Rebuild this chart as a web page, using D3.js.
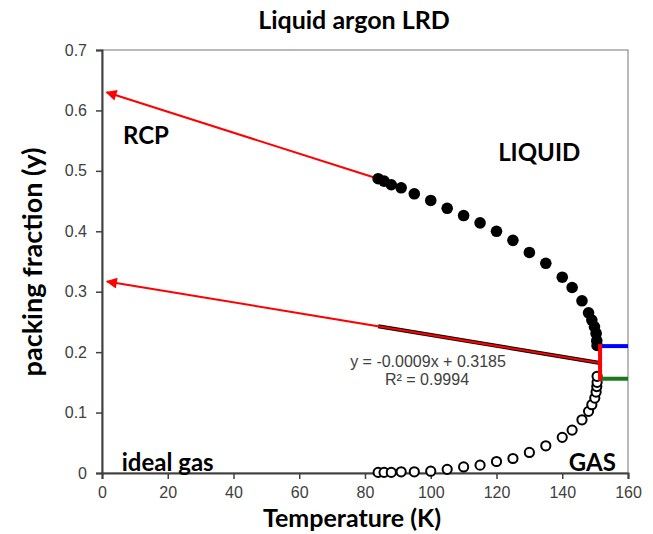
<!DOCTYPE html>
<html>
<head>
<meta charset="utf-8">
<script src="https://cdn.jsdelivr.net/npm/d3@7"></script>
<style>
  body { margin: 0; background: #fff; }
  text { font-family: "Liberation Sans", Arial, sans-serif; }
  .bold { font-family: Lato, "Open Sans", sans-serif; font-weight: bold; fill: #000; }
</style>
</head>
<body>
<svg id="chart" width="653" height="534"></svg>
<script>
// temperatures (K) and packing fractions
const temps = [84, 85.8, 88, 91, 95, 100, 105, 110, 115, 120, 125, 130, 135, 140, 143, 146, 148, 149, 149.8, 150.3, 150.5, 150.6];
const liquidY = [0.487, 0.483, 0.477, 0.472, 0.462, 0.451, 0.438, 0.426, 0.414, 0.400, 0.385, 0.365, 0.347, 0.324, 0.307, 0.285, 0.265, 0.253, 0.242, 0.231, 0.219, 0.211];
const gasTemps = [84, 85.8, 88, 91, 95, 100, 105, 110, 115, 120, 125, 130, 135, 140, 143, 146, 148, 149, 149.9, 150.3, 150.5, 150.6, 150.6];
const gasY = [0.001, 0.001, 0.001, 0.002, 0.002, 0.003, 0.006, 0.010, 0.013, 0.019, 0.024, 0.034, 0.045, 0.059, 0.071, 0.088, 0.102, 0.113, 0.124, 0.134, 0.143, 0.150, 0.160];

const xTicks = [0, 20, 40, 60, 80, 100, 120, 140, 160];
const yTicks = [0, 0.1, 0.2, 0.3, 0.4, 0.5, 0.6, 0.7];

// linear fit of the mean
const fitSlope = -0.0009, fitIntercept = 0.3185;
const fitRange = [84, 151.5];
const rcpArrow = [[84, 0.487], [1.4, 0.630]];
const meanArrow = [[151.5, 0.182], [1.5, 0.317]];
const criticalT = 151.5;
const liquidCrit = 0.210, gasCrit = 0.156;

const svg = d3.select("#chart");
const plotL = 102, plotR = 628, plotT = 50, plotB = 473;

const x = d3.scaleLinear().domain([0, 160]).range([plotL, plotR]);
const y = d3.scaleLinear().domain([0, 0.7]).range([plotB, plotT]);

// plot frame
svg.append("rect")
  .attr("x", plotL).attr("y", plotT)
  .attr("width", plotR - plotL).attr("height", plotB - plotT)
  .attr("fill", "none").attr("stroke", "#8c8c8c").attr("stroke-width", 1.2);

// axes
const xAxis = svg.append("g")
  .attr("transform", "translate(0," + plotB + ")")
  .call(d3.axisBottom(x).tickValues(xTicks).tickSize(6).tickPadding(8).tickFormat(d3.format("d")));
const yAxis = svg.append("g")
  .attr("transform", "translate(" + plotL + ",0)")
  .call(d3.axisLeft(y).tickValues(yTicks).tickSize(6).tickPadding(9).tickFormat(function(d){ return d === 0 ? "0" : d3.format(".1f")(d); }));

[xAxis, yAxis].forEach(function(a) {
  a.select(".domain").attr("stroke", "#404040").attr("stroke-width", 2);
  a.selectAll(".tick line").attr("stroke", "#404040").attr("stroke-width", 1.5);
  a.selectAll(".tick text").attr("fill", "#404040").style("font-size", "16px")
    .style("font-family", "'Liberation Sans', Arial, sans-serif");
});

// title and axis titles
svg.append("text").attr("class", "bold")
  .attr("x", 354).attr("y", 29).attr("text-anchor", "middle")
  .style("font-size", "25px").text("Liquid argon LRD");
svg.append("text").attr("class", "bold")
  .attr("x", 352).attr("y", 527).attr("text-anchor", "middle")
  .style("font-size", "25px").text("Temperature (K)");
svg.append("text").attr("class", "bold")
  .attr("transform", "translate(42,262) rotate(-90)").attr("text-anchor", "middle")
  .style("font-size", "27px").text("packing fraction (y)");

// arrow marker
svg.append("defs").append("marker")
  .attr("id", "arrow")
  .attr("viewBox", "0 0 10 10").attr("refX", 9).attr("refY", 5)
  .attr("markerWidth", 7).attr("markerHeight", 5.5)
  .attr("markerUnits", "strokeWidth")
  .attr("orient", "auto")
  .append("path").attr("d", "M0,0 L10,5 L0,10 z").attr("fill", "#ff0000");

// fit line (black) under red arrow
svg.append("line")
  .attr("x1", x(fitRange[0])).attr("y1", y(fitSlope * fitRange[0] + fitIntercept))
  .attr("x2", x(fitRange[1])).attr("y2", y(fitSlope * fitRange[1] + fitIntercept))
  .attr("stroke", "#000").attr("stroke-width", 4);

[rcpArrow, meanArrow].forEach(function(a) {
  svg.append("line")
    .attr("x1", x(a[0][0])).attr("y1", y(a[0][1]))
    .attr("x2", x(a[1][0])).attr("y2", y(a[1][1]))
    .attr("stroke", "#ff0000").attr("stroke-width", 2)
    .attr("marker-end", "url(#arrow)");
});

// data points
svg.selectAll(".liq")
  .data(temps)
  .enter().append("circle")
  .attr("cx", function(d){ return x(d); })
  .attr("cy", function(d, i){ return y(liquidY[i]); })
  .attr("r", 5.8)
  .attr("fill", "#000");

svg.selectAll(".gas")
  .data(gasTemps)
  .enter().append("circle")
  .attr("cx", function(d){ return x(d); })
  .attr("cy", function(d, i){ return y(gasY[i]); })
  .attr("r", 4.6)
  .attr("fill", "#fff").attr("stroke", "#000").attr("stroke-width", 2);

// critical point markers
svg.append("line")
  .attr("x1", x(criticalT)).attr("x2", x(160))
  .attr("y1", y(liquidCrit)).attr("y2", y(liquidCrit))
  .attr("stroke", "#0000ff").attr("stroke-width", 4);
svg.append("line")
  .attr("x1", x(criticalT)).attr("x2", x(160))
  .attr("y1", y(gasCrit)).attr("y2", y(gasCrit))
  .attr("stroke", "#1a7a1a").attr("stroke-width", 4);
svg.append("line")
  .attr("x1", x(criticalT)).attr("x2", x(criticalT))
  .attr("y1", y(liquidCrit) - 2).attr("y2", y(gasCrit) + 2)
  .attr("stroke", "#ff0000").attr("stroke-width", 4);

// equation
svg.append("text")
  .attr("x", 428).attr("y", 367).attr("text-anchor", "middle")
  .attr("fill", "#404040").style("font-size", "16px")
  .text("y = -0.0009x + 0.3185");
svg.append("text")
  .attr("x", 427).attr("y", 385).attr("text-anchor", "middle")
  .attr("fill", "#404040").style("font-size", "16px")
  .text("R² = 0.9994");

// region labels
const labels = [
  { t: "RCP", tx: 6.4, ty: 0.545 },
  { t: "LIQUID", tx: 120.5, ty: 0.517 },
  { t: "ideal gas", tx: 6, ty: 0.004 },
  { t: "GAS", tx: 142, ty: 0.004 }
];
svg.selectAll(".lbl")
  .data(labels)
  .enter().append("text")
  .attr("class", "bold")
  .attr("x", function(d){ return x(d.tx); })
  .attr("y", function(d){ return y(d.ty); })
  .style("font-size", "24px")
  .text(function(d){ return d.t; });
</script>
</body>
</html>
